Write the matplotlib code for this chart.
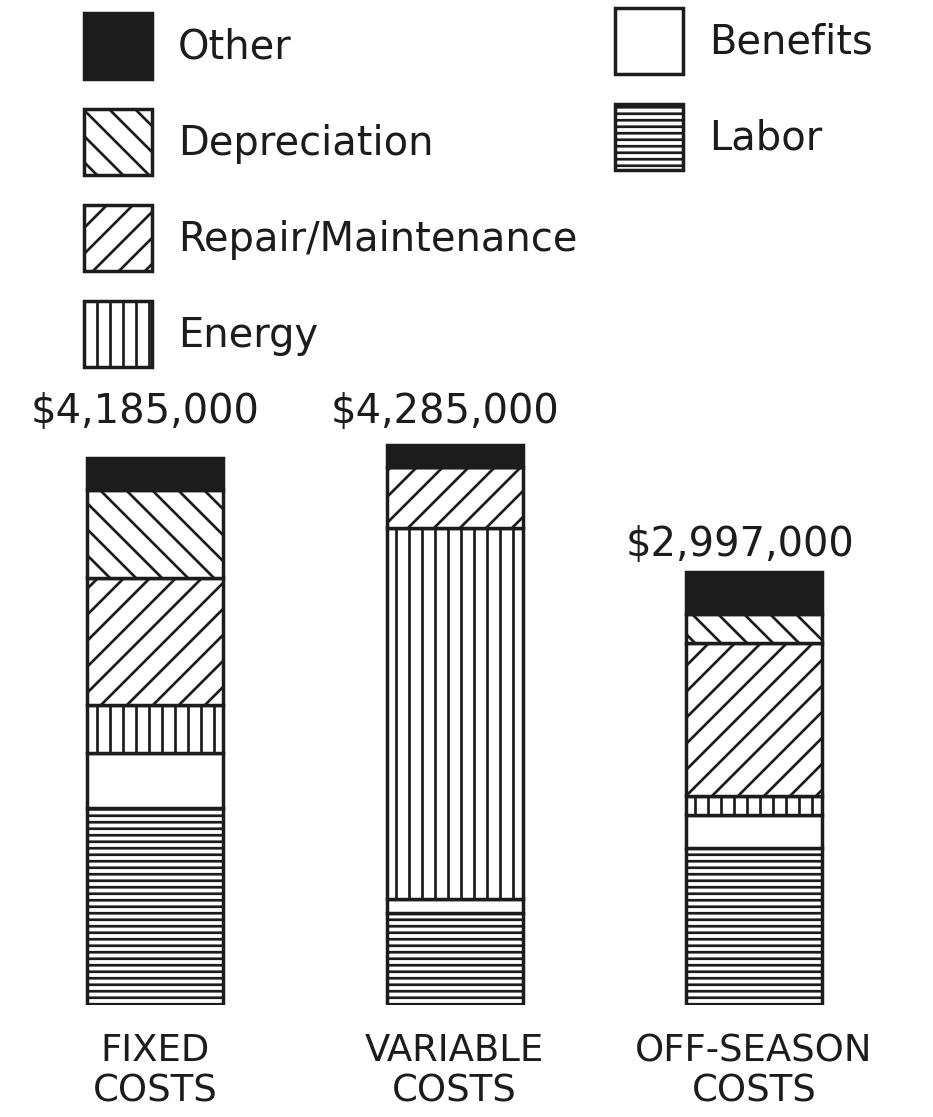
import matplotlib
matplotlib.use("Agg")
import matplotlib.pyplot as plt
import numpy as np

# ---------------- data (values in $ thousands) -------------
categories = ["FIXED\nCOSTS", "VARIABLE\nCOSTS", "OFF-SEASON\nCOSTS"]
total_labels = ["$4,185,000", "$4,285,000", "$2,997,000"]
labor = [1507, 705, 1201]
benefits = [421, 107, 252]
energy = [367, 2838, 145]
repair = [972, 467, 1171]
depreciation = [673, 0, 222]
other = [245, 168, 321]

series_names = ["Labor", "Benefits", "Energy", "Repair/Maintenance", "Depreciation", "Other"]
series_values = [labor, benefits, energy, repair, depreciation, other]

# ---------------- styling ---------------------------------------------------------
INK = "#1c1c1c"
hatches = ["--", "", "|", "/", "\\", ""]
faces = ["white", "white", "white", "white", "white", INK]

DPI = 78
W, H = 933, 1117
PT = 72.0 / DPI  # points per pixel

plt.rcParams["font.family"] = ["DejaVu Sans"]
plt.rcParams["hatch.linewidth"] = 2.5
plt.rcParams["hatch.color"] = INK
plt.rcParams["text.color"] = INK

fig = plt.figure(figsize=(W / DPI, H / DPI), dpi=DPI)
fig.patch.set_facecolor("white")

px_per_k = 547 / 4185.0
ax_bottom_px, ax_top_px = 1005, 400
ax = fig.add_axes([0, (H - ax_bottom_px) / H, 1, (ax_bottom_px - ax_top_px) / H])
ax.set_ylim(0, (ax_bottom_px - ax_top_px) / px_per_k)
unit = 299.5  # px between bar centres
first_center = 155
ax.set_xlim(-first_center / unit, (W - first_center) / unit)
ax.set_facecolor("none")

x = np.arange(len(categories))
bottom = np.zeros(len(categories))
handles = {}
for name, vals, h, fc in zip(series_names, series_values, hatches, faces):
    bars = ax.bar(x, vals, width=136 / unit, bottom=bottom, color=fc,
                  edgecolor=INK, linewidth=3.2, hatch=h, label=name)
    handles[name] = bars
    bottom += np.array(vals, dtype=float)

# total labels above bars
dx_px = [-10, -10, -14]
dy_px = [35, 22, 16]
for i, lab in enumerate(total_labels):
    ax.text(x[i] + dx_px[i] / unit, bottom[i] + dy_px[i] / px_per_k, lab,
            ha="center", va="baseline", fontsize=40 * PT, color=INK)

ax.set_xticks(x)
ax.set_xticklabels(categories, fontsize=37 * PT, linespacing=1.12, color=INK)
ax.tick_params(axis="x", length=0, pad=27 * PT)
ax.set_yticks([])
for s in ax.spines.values():
    s.set_visible(False)

# legends
fs_px = 40
box_h = 66
hh = (box_h / fs_px - 0.245) / 0.65
common = dict(frameon=False, fontsize=fs_px * PT, handlelength=68 / fs_px, handleheight=hh,
              labelspacing=30 / fs_px, handletextpad=26 / fs_px, borderpad=0, borderaxespad=0,
              loc="upper left")
left_names = ["Other", "Depreciation", "Repair/Maintenance", "Energy"]
right_names = ["Benefits", "Labor"]
leg1 = fig.legend([handles[n] for n in left_names], left_names,
                  bbox_to_anchor=(84 / W, 1 - 13 / H), **common)
leg2 = fig.legend([handles[n] for n in right_names], right_names,
                  bbox_to_anchor=(615 / W, 1 - 8 / H), **common)

fig.savefig("out.png", dpi=DPI, facecolor="white")
